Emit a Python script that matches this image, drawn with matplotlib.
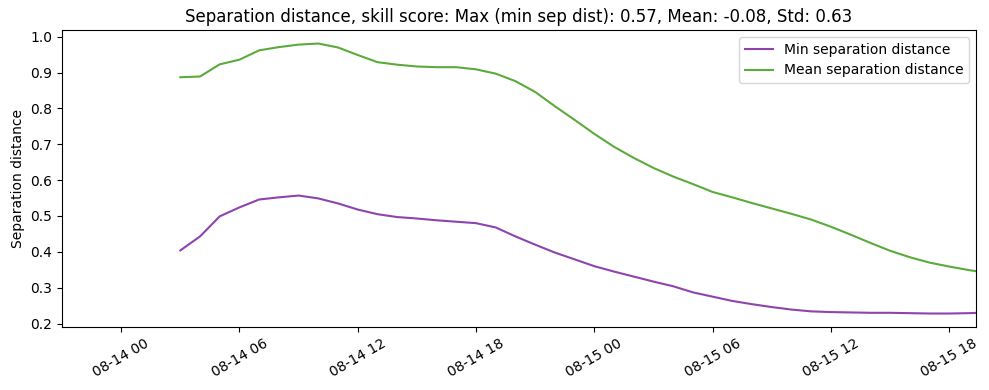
import numpy as np
import pandas as pd
import matplotlib
matplotlib.use("Agg")
import matplotlib.pyplot as plt
import matplotlib.dates as mdates

# hourly values from 08-14 03:00 to 08-15 20:00
times = pd.date_range("2023-08-14 03:00", "2023-08-15 20:00", freq="h")

min_sep = [0.404, 0.443, 0.499, 0.524, 0.546, 0.552, 0.557, 0.549, 0.535, 0.518,
           0.505, 0.497, 0.493, 0.488, 0.484, 0.480, 0.468, 0.443, 0.420, 0.398,
           0.379, 0.360, 0.345, 0.331, 0.317, 0.304, 0.287, 0.275, 0.263, 0.254,
           0.246, 0.239, 0.234, 0.232, 0.231, 0.230, 0.230, 0.229, 0.228, 0.228,
           0.229, 0.231]

mean_sep = [0.887, 0.889, 0.923, 0.936, 0.962, 0.971, 0.978, 0.981, 0.970, 0.949,
            0.929, 0.922, 0.917, 0.915, 0.915, 0.909, 0.897, 0.876, 0.846, 0.806,
            0.768, 0.729, 0.693, 0.662, 0.634, 0.610, 0.589, 0.567, 0.552, 0.536,
            0.521, 0.506, 0.490, 0.470, 0.448, 0.425, 0.403, 0.385, 0.370, 0.359,
            0.349, 0.341]

title = "Separation distance, skill score: Max (min sep dist): 0.57, Mean: -0.08, Std: 0.63"

fig = plt.figure(figsize=(9.89, 3.9), dpi=100)
ax = fig.add_axes([0.0627, 0.1615, 0.924, 0.7615])

ax.plot(times, min_sep, color="#8E44AD", lw=1.5, label="Min separation distance")
ax.plot(times, mean_sep, color="#5DAA3C", lw=1.5, label="Mean separation distance")

ax.set_xlim(pd.Timestamp("2023-08-13 21:00"), pd.Timestamp("2023-08-15 19:21"))
ax.xaxis.set_major_locator(mdates.HourLocator(byhour=[0, 6, 12, 18]))
ax.xaxis.set_major_formatter(mdates.DateFormatter("%m-%d %H"))
plt.setp(ax.get_xticklabels(), rotation=30, ha="center")

ax.set_ylabel("Separation distance")
ax.set_title(title)
ax.legend(loc="upper right")

fig.savefig("out.png", dpi=100)
